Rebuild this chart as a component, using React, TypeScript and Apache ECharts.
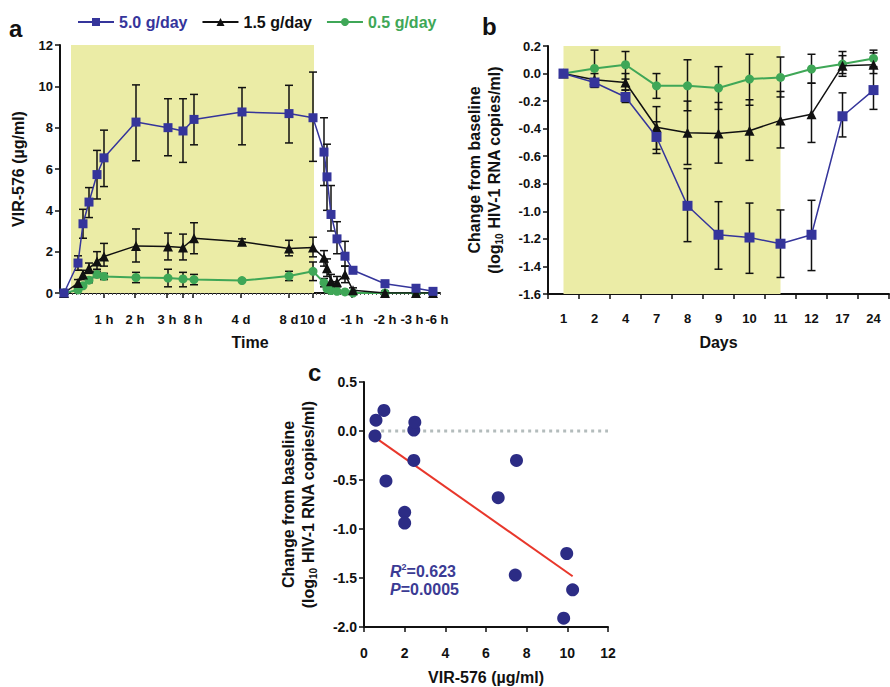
import React, { useEffect, useRef } from 'react';
import * as echarts from 'echarts';

// ---------- Panel a: VIR-576 plasma concentration over time ----------
// relative plotting positions of the sampling times along the (broken) time axis
const timePosA = [4, 18, 23, 29, 37, 44, 76, 108, 123, 134, 182, 229, 253, 264, 267, 271, 277, 285, 293, 325, 356, 373];
const tickPosA = [44, 75, 107, 123, 133, 181, 229, 253, 292, 325, 356, 373];
const tickLabelsA = ['1 h', '2 h', '3 h', '', '8 h', '4 d', '8 d', '10 d', '-1 h', '-2 h', '-3 h', '-6 h'];

const blueA = [0, 1.45, 3.35, 4.4, 5.73, 6.54, 8.27, 8.0, 7.84, 8.4, 8.76, 8.68, 8.48, 6.82, 5.62, 3.8, 2.62, 1.78, 1.1, 0.45, 0.23, 0.08];
const blueLoA = [null, 1.1, 2.65, 3.65, 4.55, 5.15, 6.4, 6.64, 6.32, 7.17, 7.17, 7.26, 6.37, 5.2, 4.0, 3.0, 1.9, 1.3, 0.95, 0.3, 0.1, 0.0];
const blueHiA = [null, 1.8, 4.05, 5.1, 6.9, 7.88, 10.07, 9.4, 9.4, 9.61, 9.94, 10.05, 10.69, 8.48, 7.2, 5.2, 3.45, 2.5, 1.25, 0.6, 0.35, 0.15];

const blackA = [0, 0.48, 0.89, 1.2, 1.53, 1.77, 2.28, 2.25, 2.2, 2.65, 2.48, 2.15, 2.2, 1.7, 1.2, 0.57, 0.52, 0.9, 0.13, 0, 0, 0];
const blackLoA = [null, 0.3, 0.65, 0.95, 1.15, 1.3, 1.5, 1.6, 1.6, 1.9, 2.35, 1.8, 1.75, 1.3, 0.8, 0.3, 0.3, 0.5, 0.0, -0.15, -0.15, -0.15];
const blackHiA = [null, 0.65, 1.1, 1.45, 2.0, 2.4, 3.1, 2.9, 2.85, 3.4, 2.62, 2.55, 2.7, 2.05, 1.65, 0.9, 0.8, 1.3, 0.25, 0.1, 0.1, 0.1];

const greenA = [0, 0.15, 0.35, 0.62, 0.9, 0.8, 0.75, 0.72, 0.68, 0.65, 0.6, 0.82, 1.05, 0.5, 0.2, 0.12, 0.08, 0.05, 0, 0, 0, 0];
const greenLoA = [null, null, null, 0.5, 0.75, 0.65, 0.5, 0.3, 0.3, 0.4, 0.55, 0.6, 0.6, 0.3, null, null, null, null, null, null, null, null];
const greenHiA = [null, null, null, 0.75, 1.05, 0.95, 1.0, 1.15, 1.0, 0.9, 0.65, 1.05, 1.5, 0.7, null, null, null, null, null, null, null, null];

// ---------- Panel b: change in HIV-1 RNA ----------
const daysB = ['1', '2', '4', '7', '8', '9', '10', '11', '12', '17', '24'];
const blueB = [0, -0.065, -0.17, -0.46, -0.96, -1.17, -1.19, -1.235, -1.17, -0.31, -0.12];
const blueLoB = [null, -0.1, -0.21, -0.58, -1.22, -1.42, -1.45, -1.48, -1.43, -0.46, -0.26];
const blueHiB = [null, -0.04, -0.12, -0.35, -0.69, -0.93, -0.94, -0.99, -0.92, -0.14, 0.04];
const blackB = [0, -0.045, -0.065, -0.39, -0.43, -0.435, -0.415, -0.34, -0.295, 0.057, 0.064];
const blackLoB = [null, -0.08, -0.12, -0.55, -0.66, -0.65, -0.63, -0.54, -0.5, -0.02, 0.0];
const blackHiB = [null, 0.0, 0.0, -0.24, -0.2, -0.21, -0.19, -0.13, -0.07, 0.16, 0.15];
const greenB = [0, 0.037, 0.064, -0.089, -0.089, -0.105, -0.04, -0.028, 0.033, 0.069, 0.11];
const greenLoB = [null, -0.1, -0.04, -0.18, -0.27, -0.26, -0.23, -0.17, -0.07, 0.0, 0.05];
const greenHiB = [null, 0.17, 0.16, 0.0, 0.1, 0.05, 0.14, 0.12, 0.14, 0.13, 0.17];

// ---------- Panel c: correlation ----------
const virC = [0.54, 0.59, 0.98, 1.08, 2.0, 2.0, 2.45, 2.45, 2.5, 6.6, 7.44, 7.5, 9.82, 9.97, 10.26];
const chgC = [-0.05, 0.11, 0.21, -0.51, -0.83, -0.94, 0.01, -0.3, 0.09, -0.68, -1.47, -0.3, -1.91, -1.25, -1.62];
const zeroLineC = [[0.5, 0, 12]]; // [from x, y, to x]

const FONT = '"Liberation Sans", Arial, Helvetica, sans-serif';
const BLUE = '#35359b';
const GREEN = '#3fa757';
const BLACK = '#111111';
const SHADE = '#ebeca6';
const RED = '#e8372b';
const STATS = '#3b3b94';
const DOTS = '#b3bcbc';

const errRender = (params: any, api: any) => {
  const x = api.value(0);
  const lo = api.value(1);
  const hi = api.value(2);
  const p1 = api.coord([x, hi]);
  const p2 = api.coord([x, lo]);
  const w = 4;
  const style = { stroke: BLACK, lineWidth: 1.5, fill: 'none' };
  return {
    type: 'group',
    children: [
      { type: 'line', shape: { x1: p1[0], y1: p1[1], x2: p2[0], y2: p2[1] }, style },
      { type: 'line', shape: { x1: p1[0] - w, y1: p1[1], x2: p1[0] + w, y2: p1[1] }, style },
      { type: 'line', shape: { x1: p2[0] - w, y1: p2[1], x2: p2[0] + w, y2: p2[1] }, style },
    ],
  };
};

const zeroRender = (params: any, api: any) => {
  const a = api.coord([api.value(0), api.value(1)]);
  const b = api.coord([api.value(2), api.value(1)]);
  return {
    type: 'line',
    shape: { x1: a[0], y1: a[1], x2: b[0], y2: b[1] },
    style: { stroke: DOTS, lineWidth: 3, lineDash: [3, 4], fill: 'none' },
  };
};

const errData = (xs: any[], lo: (number | null)[], hi: (number | null)[]) => {
  const out: any[] = [];
  xs.forEach((x, i) => {
    if (lo[i] !== null && hi[i] !== null) out.push([x, lo[i], hi[i]]);
  });
  return out;
};

const axisLine = { show: true, onZero: false, lineStyle: { color: BLACK, width: 2 } };
const axisTick = { show: true, length: 5, lineStyle: { color: BLACK, width: 1.5 } };
const lbl = (size: number) => ({ color: BLACK, fontWeight: 'bold', fontSize: size, fontFamily: FONT, hideOverlap: false });
const nameStyle = { color: BLACK, fontWeight: 'bold', fontSize: 16, fontFamily: FONT };
const twoLineName = '{t|Change from baseline}\n{t|(log}{s|10}{t| HIV-1 RNA copies/ml)}';
const twoLineRich = {
  t: { fontSize: 16, fontWeight: 'bold', fontFamily: FONT, color: BLACK, lineHeight: 20 },
  s: { fontSize: 10, fontWeight: 'bold', fontFamily: FONT, color: BLACK, lineHeight: 20, verticalAlign: 'bottom', padding: [6, 0, 0, 0] },
};

// linear regression for panel c
const n = virC.length;
const mx = virC.reduce((a, b) => a + b, 0) / n;
const my = chgC.reduce((a, b) => a + b, 0) / n;
let sxy = 0;
let sxx = 0;
for (let i = 0; i < n; i++) {
  sxy += (virC[i] - mx) * (chgC[i] - my);
  sxx += (virC[i] - mx) * (virC[i] - mx);
}
const slope = sxy / sxx;
const icpt = my - slope * mx;
const xMinC = Math.min(...virC);
const xMaxC = Math.max(...virC);

const idxB = daysB.map((_, i) => i);

function buildOption(): any {
  return {
    animation: false,
    textStyle: { fontFamily: FONT },
    legend: {
      show: true,
      left: 72,
      top: 9,
      orient: 'horizontal',
      itemWidth: 36,
      itemHeight: 10,
      itemGap: 14,
      textStyle: { fontSize: 16, fontWeight: 'bold', fontFamily: FONT },
      data: [
        { name: '5.0 g/day', textStyle: { color: BLUE } },
        { name: '1.5 g/day', textStyle: { color: BLACK } },
        { name: '0.5 g/day', textStyle: { color: GREEN } },
      ],
    },
    grid: [
      { left: 60, top: 45, width: 380, height: 248, outerBoundsMode: 'none', containLabel: false },
      { left: 548, top: 46, width: 341, height: 248, outerBoundsMode: 'none', containLabel: false },
      { left: 364, top: 382, width: 244, height: 245, outerBoundsMode: 'none', containLabel: false },
    ],
    xAxis: [
      {
        type: 'value', gridIndex: 0, min: 0, max: 380, position: 'bottom',
        axisLine, splitLine: { show: false },
        axisTick: { ...axisTick, customValues: tickPosA },
        axisLabel: {
          ...lbl(13), margin: 20, customValues: tickPosA,
          formatter: (v: number) => {
            const s = tickLabelsA[tickPosA.indexOf(v)] ?? '';
            if (s === '-3 h') return '{l|' + s + '}';
            if (s === '-6 h') return '{r|' + s + '}';
            return s;
          },
          rich: {
            l: { ...lbl(13), padding: [0, 8, 0, 0] },
            r: { ...lbl(13), padding: [0, 0, 0, 8] },
          },
        },
        name: 'Time', nameLocation: 'middle', nameGap: 41, nameTextStyle: nameStyle,
      },
      {
        type: 'value', gridIndex: 0, min: 0, max: 380, interval: 4, position: 'bottom', offset: 0,
        axisLine: { show: false, onZero: false }, splitLine: { show: false },
        axisTick: { show: true, length: 2, lineStyle: { color: '#555', width: 1 } },
        axisLabel: { show: false },
      },
      {
        type: 'category', gridIndex: 1, data: daysB, boundaryGap: true, position: 'bottom',
        axisLine, splitLine: { show: false },
        axisTick: { ...axisTick, interval: 0 },
        axisLabel: { ...lbl(13), margin: 18, interval: 0 },
        name: 'Days', nameLocation: 'middle', nameGap: 40, nameTextStyle: nameStyle,
      },
      {
        type: 'value', gridIndex: 2, min: 0, max: 12, interval: 2, position: 'bottom',
        axisLine, splitLine: { show: false }, axisTick,
        axisLabel: { ...lbl(14), margin: 19 },
        name: 'VIR-576 (µg/ml)', nameLocation: 'middle', nameGap: 42, nameTextStyle: nameStyle,
      },
    ],
    yAxis: [
      {
        type: 'value', gridIndex: 0, min: 0, max: 12, interval: 2,
        axisLine, splitLine: { show: false }, axisTick,
        axisLabel: { ...lbl(13), margin: 7 },
        name: 'VIR-576 (µg/ml)', nameLocation: 'middle', nameRotate: 90, nameGap: 34, nameTextStyle: nameStyle,
      },
      {
        type: 'value', gridIndex: 1, min: -1.6, max: 0.2, interval: 0.2,
        axisLine, splitLine: { show: false }, axisTick,
        axisLabel: { ...lbl(13), margin: 7, formatter: (v: number) => v.toFixed(1) },
        name: twoLineName, nameLocation: 'middle', nameRotate: 90, nameGap: 44,
        nameTextStyle: { rich: twoLineRich },
      },
      {
        type: 'value', gridIndex: 2, min: -2, max: 0.5, interval: 0.5,
        axisLine, splitLine: { show: false }, axisTick,
        axisLabel: { ...lbl(14), margin: 7, formatter: (v: number) => v.toFixed(1) },
        name: twoLineName, nameLocation: 'middle', nameRotate: 90, nameGap: 46,
        nameTextStyle: { rich: twoLineRich },
      },
    ],
    series: [
      // shaded dosing period, panel a
      {
        type: 'line', name: 'shadeA', xAxisIndex: 0, yAxisIndex: 0, data: [[0, 0]],
        symbol: 'none', lineStyle: { opacity: 0 }, silent: true, z: 1,
        markArea: { silent: true, itemStyle: { color: SHADE }, data: [[{ coord: [11, 0] }, { coord: [254, 12] }]] },
      },
      // shaded dosing period, panel b
      {
        type: 'line', name: 'shadeB', xAxisIndex: 2, yAxisIndex: 1, data: [0],
        symbol: 'none', lineStyle: { opacity: 0 }, silent: true, z: 1,
        markArea: { silent: true, itemStyle: { color: SHADE }, data: [[{ coord: ['1', 0.2] }, { coord: ['11', -1.6] }]] },
      },
      // panel a lines
      {
        type: 'line', name: '0.5 g/day', xAxisIndex: 0, yAxisIndex: 0, z: 3,
        data: timePosA.map((t, i) => [t, greenA[i]]),
        symbol: 'circle', symbolSize: 9, color: GREEN,
        lineStyle: { color: GREEN, width: 2 }, itemStyle: { color: GREEN },
      },
      {
        type: 'line', name: '1.5 g/day', xAxisIndex: 0, yAxisIndex: 0, z: 4,
        data: timePosA.map((t, i) => [t, blackA[i]]),
        symbol: 'triangle', symbolSize: 10, color: BLACK,
        lineStyle: { color: BLACK, width: 1.5 }, itemStyle: { color: BLACK },
      },
      {
        type: 'line', name: '5.0 g/day', xAxisIndex: 0, yAxisIndex: 0, z: 5,
        data: timePosA.map((t, i) => [t, blueA[i]]),
        symbol: 'rect', symbolSize: 9, color: BLUE,
        lineStyle: { color: BLUE, width: 1.5 }, itemStyle: { color: BLUE },
      },
      // panel a error bars
      ...[
        errData(timePosA, greenLoA, greenHiA),
        errData(timePosA, blackLoA, blackHiA),
        errData(timePosA, blueLoA, blueHiA),
      ].map((d, k) => ({
        type: 'custom', name: 'errA' + k, xAxisIndex: 0, yAxisIndex: 0, z: 2,
        renderItem: errRender, data: d, encode: { x: 0, y: [1, 2] }, silent: true,
      })),
      // panel b lines
      {
        type: 'line', name: '0.5 g/day', xAxisIndex: 2, yAxisIndex: 1, z: 3,
        data: greenB, symbol: 'circle', symbolSize: 9, color: GREEN,
        lineStyle: { color: GREEN, width: 2 }, itemStyle: { color: GREEN },
      },
      {
        type: 'line', name: '1.5 g/day', xAxisIndex: 2, yAxisIndex: 1, z: 4,
        data: blackB, symbol: 'triangle', symbolSize: 10, color: BLACK,
        lineStyle: { color: BLACK, width: 1.5 }, itemStyle: { color: BLACK },
      },
      {
        type: 'line', name: '5.0 g/day', xAxisIndex: 2, yAxisIndex: 1, z: 5,
        data: blueB, symbol: 'rect', symbolSize: 10, color: BLUE,
        lineStyle: { color: BLUE, width: 1.5 }, itemStyle: { color: BLUE },
      },
      ...[
        errData(idxB, greenLoB, greenHiB),
        errData(idxB, blackLoB, blackHiB),
        errData(idxB, blueLoB, blueHiB),
      ].map((d, k) => ({
        type: 'custom', name: 'errB' + k, xAxisIndex: 2, yAxisIndex: 1, z: 2,
        renderItem: errRender, data: d, encode: { x: 0, y: [1, 2] }, silent: true,
      })),
      // panel c
      {
        type: 'custom', name: 'zero', xAxisIndex: 3, yAxisIndex: 2, z: 2,
        renderItem: zeroRender, data: zeroLineC, encode: { x: [0, 2], y: 1 }, silent: true,
      },
      {
        type: 'line', name: 'fit', xAxisIndex: 3, yAxisIndex: 2, z: 3,
        data: [[xMinC, icpt + slope * xMinC], [xMaxC, icpt + slope * xMaxC]],
        symbol: 'none', lineStyle: { color: RED, width: 2 }, silent: true, color: RED,
      },
      {
        type: 'scatter', name: 'patients', xAxisIndex: 3, yAxisIndex: 2, z: 4,
        data: virC.map((v, i) => [v, chgC[i]]),
        symbol: 'circle', symbolSize: 13, itemStyle: { color: '#2c2c85', opacity: 1 },
      },
    ],
    graphic: [
      { type: 'text', left: 9, top: 16, style: { text: 'a', fontSize: 24, fontWeight: 'bold', fontFamily: FONT, fill: BLACK } },
      { type: 'text', left: 482, top: 14, style: { text: 'b', fontSize: 24, fontWeight: 'bold', fontFamily: FONT, fill: BLACK } },
      { type: 'text', left: 308, top: 360, style: { text: 'c', fontSize: 24, fontWeight: 'bold', fontFamily: FONT, fill: BLACK } },
      {
        type: 'text', left: 390, top: 562, z: 10,
        style: {
          text: '{i|R}{sup|2}{b|=0.623}\n{i|P}{b|=0.0005}',
          fill: STATS,
          rich: {
            i: { fontSize: 16, fontWeight: 'bold', fontStyle: 'italic', fontFamily: FONT, fill: STATS, lineHeight: 18 },
            sup: { fontSize: 9, fontWeight: 'bold', fontFamily: FONT, fill: STATS, verticalAlign: 'top', lineHeight: 18 },
            b: { fontSize: 16, fontWeight: 'bold', fontFamily: FONT, fill: STATS, lineHeight: 18 },
          },
        },
      },
    ],
  };
}

export default function App() {
  const ref = useRef<HTMLDivElement>(null);
  useEffect(() => {
    document.body.style.margin = '0';
    const chart = echarts.init(ref.current as HTMLDivElement, null, { renderer: 'svg' });
    chart.setOption(buildOption());
    return () => chart.dispose();
  }, []);
  return <div ref={ref} style={{ width: 890, height: 687 }} />;
}
